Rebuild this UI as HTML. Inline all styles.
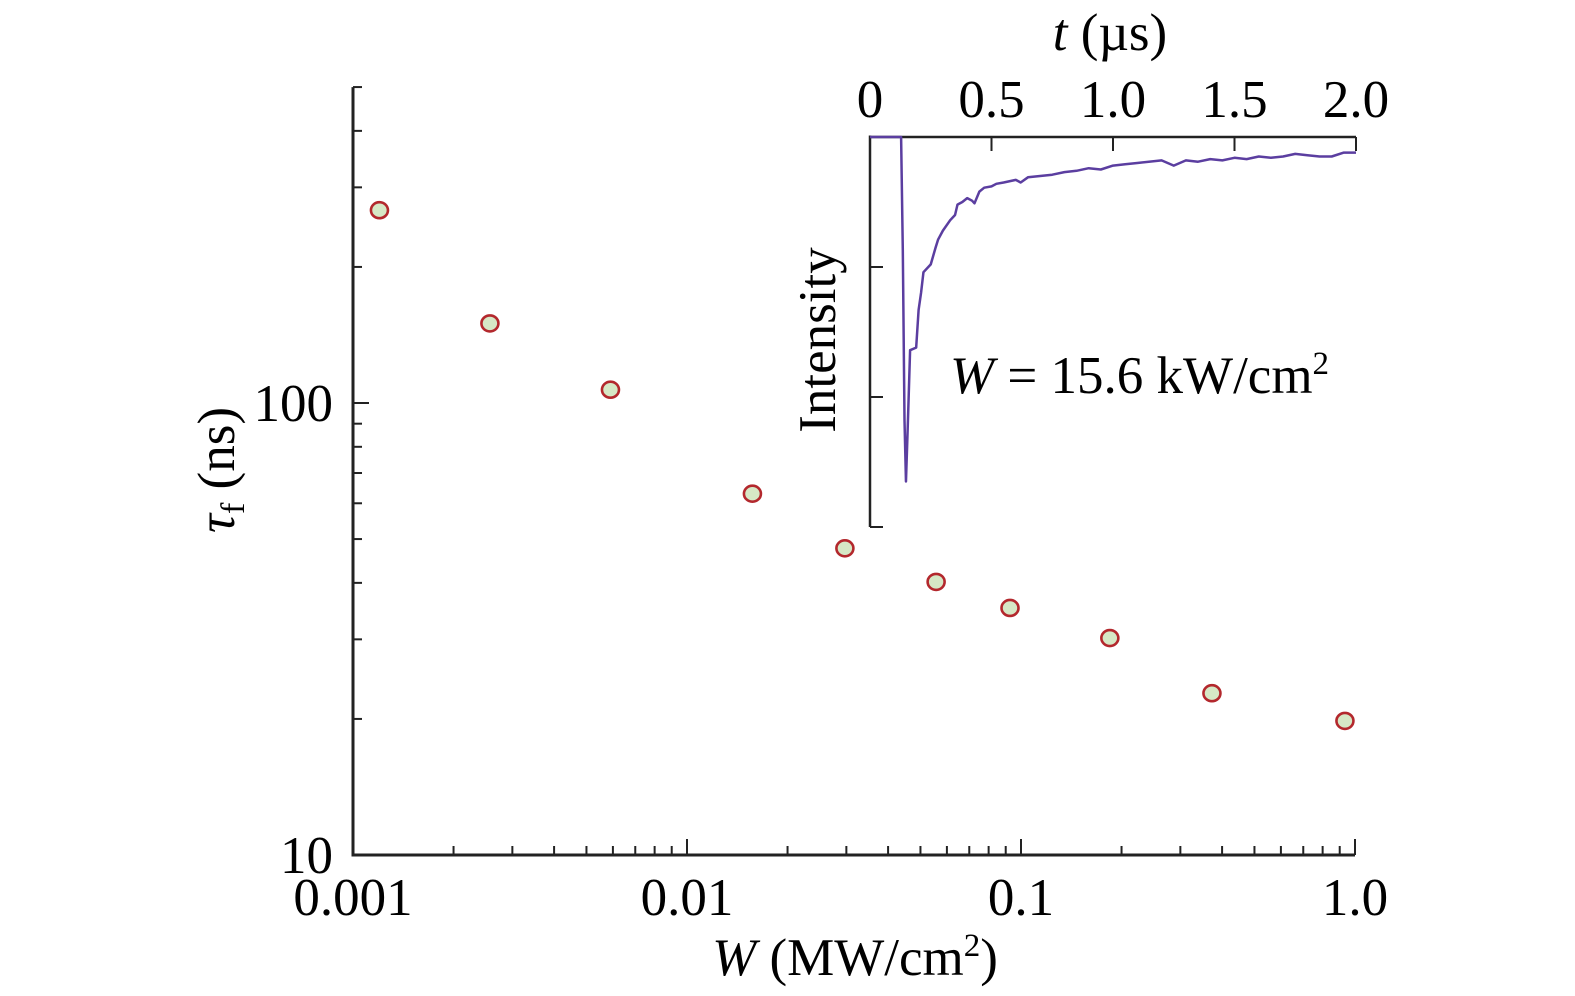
<!DOCTYPE html>
<html><head><meta charset="utf-8"><style>
html,body{margin:0;padding:0;background:#fff;}
svg{display:block;font-family:"Liberation Serif",serif;}
</style></head><body>
<svg id="chart" width="1575" height="996" viewBox="0 0 1575 996" xmlns="http://www.w3.org/2000/svg">
<g id="main-axes"></g>
<g id="points"></g>
<g id="inset"></g>
<text transform="translate(234,470) rotate(-90)" text-anchor="middle" font-size="53"><tspan font-style="italic">τ</tspan><tspan font-size="34" dy="10">f</tspan><tspan dy="-10"> (ns)</tspan></text>
<text x="855" y="975" text-anchor="middle" font-size="53"><tspan font-style="italic">W</tspan> (MW/cm<tspan font-size="33" dy="-19">2</tspan><tspan dy="19">)</tspan></text>
<text x="1110" y="50" text-anchor="middle" font-size="53"><tspan font-style="italic">t</tspan> (µs)</text>
<text transform="translate(835,340) rotate(-90)" text-anchor="middle" font-size="53">Intensity</text>
<text x="950" y="393" font-size="53"><tspan font-style="italic">W</tspan> = 15.6 kW/cm<tspan font-size="33" dy="-19">2</tspan></text>
</svg>
<script>
const powerW = [0.00120, 0.00257, 0.0059, 0.0157, 0.0297, 0.0557, 0.0927, 0.1845, 0.373, 0.933];
const tauF = [267, 150, 107, 63, 47.7, 40.2, 35.2, 30.2, 22.8, 19.8];
const xTickLabels = ["0.001", "0.01", "0.1", "1.0"];
const yTickLabels = ["10", "100"];
const insetTime = [0,0.06,0.12,0.128,0.135,0.142,0.148,0.155,0.165,0.19,0.2,0.21,0.22,0.25,0.27,0.28,0.3,0.33,0.35,0.36,0.38,0.4,0.42,0.43,0.45,0.47,0.5,0.52,0.55,0.6,0.62,0.65,0.7,0.75,0.8,0.85,0.9,0.95,1.0,1.05,1.1,1.2,1.25,1.3,1.35,1.4,1.45,1.5,1.55,1.6,1.65,1.7,1.75,1.8,1.85,1.9,1.95,2.0];
const insetIntensity = [0,0,0,0,-0.87,-2.18,-2.65,-2.25,-1.64,-1.62,-1.33,-1.2,-1.04,-0.98,-0.85,-0.79,-0.72,-0.64,-0.6,-0.52,-0.5,-0.47,-0.49,-0.51,-0.42,-0.39,-0.38,-0.36,-0.35,-0.33,-0.35,-0.31,-0.3,-0.29,-0.27,-0.26,-0.24,-0.25,-0.22,-0.21,-0.2,-0.18,-0.22,-0.18,-0.19,-0.17,-0.18,-0.16,-0.17,-0.15,-0.16,-0.15,-0.13,-0.14,-0.15,-0.15,-0.12,-0.12];
const insetXTicks = [0,0.5,1.0,1.5,2.0];
const insetXLabels = ["0","0.5","1.0","1.5","2.0"];
const insetYTicks = [0,-1,-2,-3];

const NS="http://www.w3.org/2000/svg";
function mk(tag, attrs, parent){const e=document.createElementNS(NS,tag);for(const k in attrs)e.setAttribute(k,attrs[k]);parent.appendChild(e);return e;}
const X0=353,X1=1355,Y10=855,Y100=403;
const xs = v => X0 + (Math.log10(v)+3)*(X1-X0)/3;
const ys = v => Y10 - (Math.log10(v)-1)*(Y10-Y100);
const ax=document.getElementById('main-axes');
let l;
l=mk('line',{x1:X0,y1:ys(500),x2:X0,y2:Y10,stroke:'#222','stroke-width':3},ax);


l=mk('line',{x1:X0-1.5,y1:Y10,x2:X1,y2:Y10,stroke:'#222','stroke-width':3},ax);


for(let d=-3;d<0;d++){for(let m=1;m<10;m++){const v=m*Math.pow(10,d);const x=xs(v);
 const t=mk('line',{x1:x,y1:Y10,x2:x,y2:Y10-(m===1?16:9),stroke:'#222','stroke-width':2},ax);
 
 }}
mk('line',{x1:X1,y1:Y10,x2:X1,y2:Y10-16,stroke:'#222','stroke-width':2},ax);
xTickLabels.forEach(s=>{const t=mk('text',{x:xs(parseFloat(s)),y:915,'text-anchor':'middle','font-size':53},ax);t.textContent=s;
 
 });
for(let v=10;v<=500;v+=(v<100?10:100)){const y=ys(v);const major=(v===10||v===100);
 const t=mk('line',{x1:X0,y1:y,x2:X0+(major?16:9),y2:y,stroke:'#222','stroke-width':2},ax);
 
 }
yTickLabels.forEach(s=>{const t=mk('text',{x:333,y:ys(parseFloat(s))+18,'text-anchor':'end','font-size':53},ax);t.textContent=s;
 
 });
const pg=document.getElementById('points');
powerW.forEach((w,i)=>{const c=mk('ellipse',{cx:xs(w),cy:ys(tauF[i]),rx:8.5,ry:8,fill:'#d6e8c6',stroke:'#b3282d','stroke-width':2.6},pg);
 
 });
const IX0=870,IX1=1356,IY0=137,IYS=130;
const ix=t=>IX0+t*(IX1-IX0)/2, iy=v=>IY0-v*IYS;
const ins=document.getElementById('inset');
l=mk('line',{x1:IX0,y1:IY0-1.5,x2:IX0,y2:iy(-3),stroke:'#222','stroke-width':2.5},ins);


l=mk('line',{x1:IX0,y1:IY0,x2:IX1,y2:IY0,stroke:'#222','stroke-width':2.5},ins);


insetXTicks.forEach((t,i)=>{const tk=mk('line',{x1:ix(t),y1:IY0,x2:ix(t),y2:IY0+14,stroke:'#222','stroke-width':2},ins);
 
 
 const tx=mk('text',{x:ix(t),y:117,'text-anchor':'middle','font-size':53},ins);tx.textContent=insetXLabels[i];
 
 });
insetYTicks.forEach(v=>{const tk=mk('line',{x1:IX0,y1:iy(v),x2:IX0+13,y2:iy(v),stroke:'#222','stroke-width':2},ins);
 
 });
const path=mk('polyline',{points:insetTime.map((t,i)=>ix(t)+','+iy(insetIntensity[i])).join(' '),fill:'none',stroke:'#5b3ea0','stroke-width':2.5,'stroke-linejoin':'round'},ins);


</script>
</body></html>
